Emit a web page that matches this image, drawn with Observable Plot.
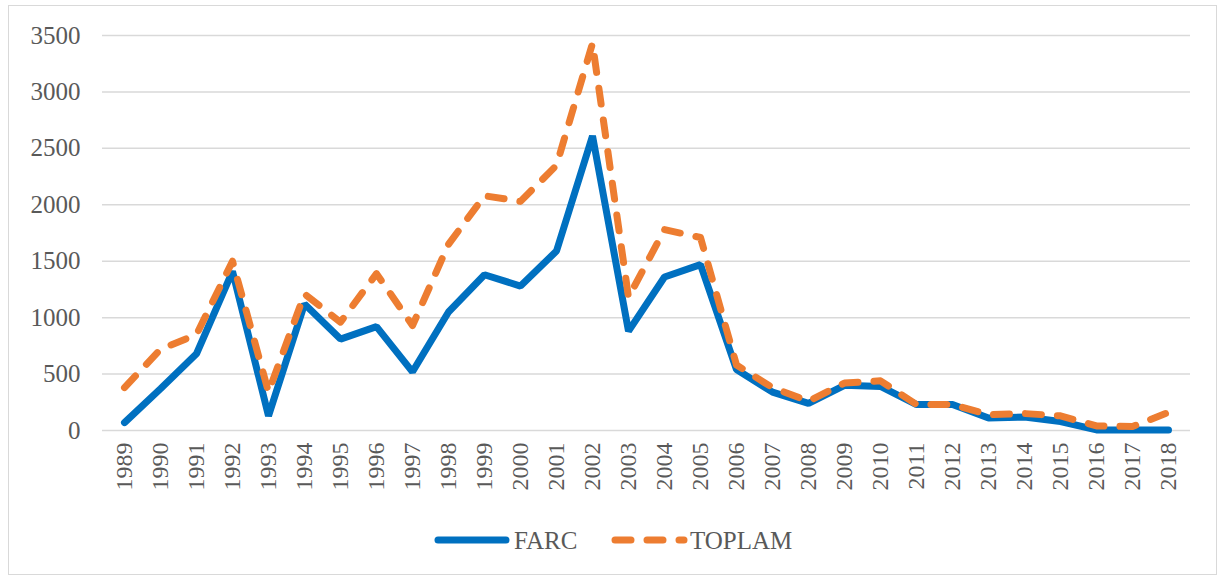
<!DOCTYPE html>
<html>
<head>
<meta charset="utf-8">
<script src="https://cdn.jsdelivr.net/npm/d3@7"></script>
<script src="https://cdn.jsdelivr.net/npm/@observablehq/plot@0.6"></script>
<style>
  html, body { margin: 0; padding: 0; background: #fff; }
  #wrap { position: relative; width: 1219px; height: 577px; overflow: hidden; }
  #frame { position: absolute; left: 8px; top: 5px; width: 1209px; height: 570px; border: 1.5px solid #d9d9d9; box-sizing: border-box; }
  #chart { position: absolute; left: 0; top: 0; }
  #legend { position: absolute; left: 0; top: 520px; width: 1219px; height: 40px; }
  svg text, #wrap text { font-family: "Liberation Serif", "Times New Roman", Tinos, "DejaVu Serif", serif !important; }
</style>
</head>
<body>
<div id="wrap">
  <div id="frame"></div>
  <div id="chart"></div>
  <svg id="legend" width="1219" height="40"></svg>
</div>
<script>
const years = [1989,1990,1991,1992,1993,1994,1995,1996,1997,1998,1999,2000,2001,2002,2003,2004,2005,2006,2007,2008,2009,2010,2011,2012,2013,2014,2015,2016,2017,2018];
const farc = [70,370,680,1410,130,1120,810,920,520,1050,1380,1280,1590,2610,880,1360,1470,540,340,240,400,390,230,230,110,120,80,5,5,5];
const toplam = [380,720,850,1500,340,1210,960,1390,930,1650,2080,2030,2350,3430,1180,1780,1710,580,380,260,420,440,230,230,140,150,130,40,35,160];
const seriesNames = ["FARC", "TOPLAM"];
const seriesColors = ["#0070C0", "#ED7D31"];
const yTicks = [0,500,1000,1500,2000,2500,3000,3500];

const serif = '"Liberation Serif", "Times New Roman", Tinos, "DejaVu Serif", serif';
const farcData = years.map((y, i) => ({year: String(y), value: farc[i]}));
const toplamData = years.map((y, i) => ({year: String(y), value: toplam[i]}));

const chart = Plot.plot({
  width: 1219,
  height: 510,
  marginLeft: 102,
  marginRight: 29,
  marginTop: 35,
  marginBottom: 80,
  style: { fontFamily: serif, color: "#595959", background: "transparent" },
  x: { type: "point", domain: years.map(String), padding: 0.5, label: null },
  y: { domain: [0, 3500], label: null },
  marks: [
    Plot.gridY(yTicks, { stroke: "#d9d9d9", strokeOpacity: 1, strokeWidth: 1.5 }),
    Plot.axisY(yTicks, { tickSize: 0, tickPadding: 22, fontSize: 25, fill: "#595959", label: null, tickFormat: d3.format("d") }),
    Plot.axisX({ tickSize: 0, tickPadding: 12, tickRotate: -90, fontSize: 24, fill: "#595959", label: null }),
    Plot.line(farcData, { x: "year", y: "value", stroke: seriesColors[0], strokeWidth: 7, strokeLinejoin: "miter", strokeLinecap: "round" }),
    Plot.line(toplamData, { x: "year", y: "value", stroke: seriesColors[1], strokeWidth: 7, strokeDasharray: "16,16", strokeLinecap: "round", strokeLinejoin: "round" })
  ]
});
document.getElementById("chart").appendChild(chart);

// Legend
const lg = d3.select("#legend");
const ly = 20;
const items = [
  { x0: 438, x1: 506, tx: 514, dash: null },
  { x0: 615, x1: 684, tx: 690, dash: "16,16" }
];
items.forEach((it, i) => {
  lg.append("line").attr("x1", it.x0).attr("x2", it.x1).attr("y1", ly).attr("y2", ly)
    .attr("stroke", seriesColors[i]).attr("stroke-width", 7).attr("stroke-linecap", "round")
    .attr("stroke-dasharray", it.dash);
  lg.append("text").attr("x", it.tx).attr("y", ly).attr("dy", "0.35em")
    .style("font-family", serif).attr("font-size", 25)
    .attr("fill", "#595959").text(seriesNames[i]);
});
</script>
</body>
</html>
